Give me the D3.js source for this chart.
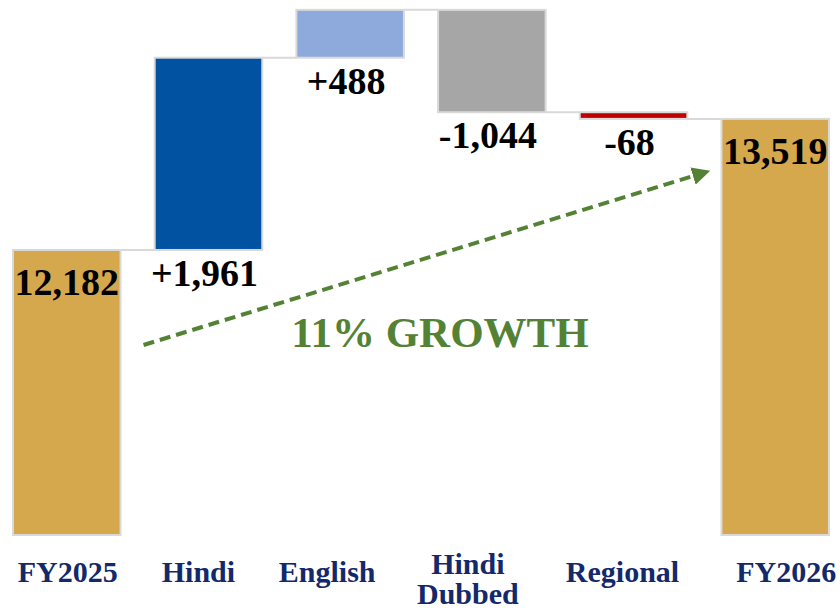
<!DOCTYPE html>
<html>
<head>
<meta charset="utf-8">
<script src="https://cdn.jsdelivr.net/npm/d3@7"></script>
<style>
  html, body { margin: 0; padding: 0; background: #ffffff; }
  svg { display: block; }
  text { font-family: "Palatino Linotype", "Book Antiqua", Palatino, "Liberation Serif", serif; font-weight: bold; }
</style>
</head>
<body>
<svg id="chart" width="840" height="611"></svg>
<script>
// ---------------- data ----------------
const categories = ["FY2025", "Hindi", "English", "Hindi Dubbed", "Regional", "FY2026"];
const values = [12182, 1961, 488, -1044, -68, 13519];
const kinds = ["total", "delta", "delta", "delta", "delta", "total"];
const valueLabels = ["12,182", "+1,961", "+488", "-1,044", "-68", "13,519"];
const categoryLines = [["FY2025"], ["Hindi"], ["English"], ["Hindi", "Dubbed"], ["Regional"], ["FY2026"]];
const growthLabel = "11% GROWTH";
const axisMin = 9275;   // value at the bottom of the (truncated) axis
const axisMax = 14650;

// ---------------- layout ----------------
const plotTop = 8, plotBottom = 535;
const svg = d3.select("#chart");

const x = d3.scaleBand().domain(categories).range([13, 829]).paddingInner(0.241).paddingOuter(0);
const y = d3.scaleLinear().domain([axisMin, axisMax]).range([plotBottom, plotTop]);

const colors = d3.scaleOrdinal()
  .domain(categories)
  .range(["#D5A84E", "#0153A2", "#8EAADC", "#A6A6A6", "#C00000", "#D5A84E"]);

// compute waterfall segments
let running = 0;
const bars = categories.map((c, i) => {
  let lo, hi, end;
  if (kinds[i] === "total") {
    lo = axisMin; hi = values[i]; end = values[i];
  } else {
    const start = running;
    end = running + values[i];
    lo = Math.min(start, end); hi = Math.max(start, end);
  }
  running = end;
  return { cat: c, i, lo, hi, end, kind: kinds[i], value: values[i] };
});

// connectors
const conn = svg.append("g");
bars.slice(0, -1).forEach((b, i) => {
  const nb = bars[i + 1];
  conn.append("line")
    .attr("x1", x(b.cat) + x.bandwidth())
    .attr("x2", x(nb.cat))
    .attr("y1", y(b.end)).attr("y2", y(b.end))
    .attr("stroke", "#D9D9D9").attr("stroke-width", 2);
});

// bars
svg.append("g").selectAll("rect").data(bars).join("rect")
  .attr("x", d => x(d.cat))
  .attr("width", x.bandwidth())
  .attr("y", d => y(d.hi))
  .attr("height", d => Math.max(1, y(d.lo) - y(d.hi)))
  .attr("fill", d => colors(d.cat))
  .attr("stroke", "#D9D9D9")
  .attr("stroke-width", 2);

// value labels
svg.append("g").selectAll("text").data(bars).join("text")
  .attr("x", d => x(d.cat) + x.bandwidth() / 2 + (d.kind === "total" ? 0 : -4))
  .attr("y", d => d.kind === "total" ? y(d.hi) + 45 : y(d.lo) + 36)
  .attr("text-anchor", "middle")
  .attr("font-size", 38)
  .attr("fill", "#000000")
  .text(d => valueLabels[d.i]);

// category labels
const labelNudge = [1, -10, -23, -24, -11, 11];
const catG = svg.append("g");
categories.forEach((c, i) => {
  const lines = categoryLines[i];
  const t = catG.append("text")
    .attr("text-anchor", "middle")
    .attr("font-size", 30)
    .attr("fill", "#13296B");
  lines.forEach((ln, k) => {
    t.append("tspan")
      .attr("x", x(c) + x.bandwidth() / 2 + labelNudge[i])
      .attr("y", 582 - (lines.length - 1) * 8 + k * 30)
      .text(ln);
  });
});

// growth arrow
const defs = svg.append("defs");
defs.append("marker")
  .attr("id", "arrowHead")
  .attr("viewBox", "0 0 10 10")
  .attr("refX", 2).attr("refY", 5)
  .attr("markerWidth", 4.5).attr("markerHeight", 4.5)
  .attr("orient", "auto")
  .append("path").attr("d", "M0,0 L10,5 L0,10 Z").attr("fill", "#548235");

const ax1 = x("FY2025") + x.bandwidth() + 23, ay1 = 345;
const ax2 = x("FY2026") - 25, ay2 = 175;
svg.append("line")
  .attr("x1", ax1).attr("y1", ay1)
  .attr("x2", ax2).attr("y2", ay2)
  .attr("stroke", "#548235")
  .attr("stroke-width", 4)
  .attr("stroke-dasharray", "11,6")
  .attr("marker-end", "url(#arrowHead)");

svg.append("text")
  .attr("x", 440).attr("y", 347)
  .attr("text-anchor", "middle")
  .attr("font-size", 43)
  .attr("fill", "#548235")
  .text(growthLabel);
</script>
</body>
</html>
